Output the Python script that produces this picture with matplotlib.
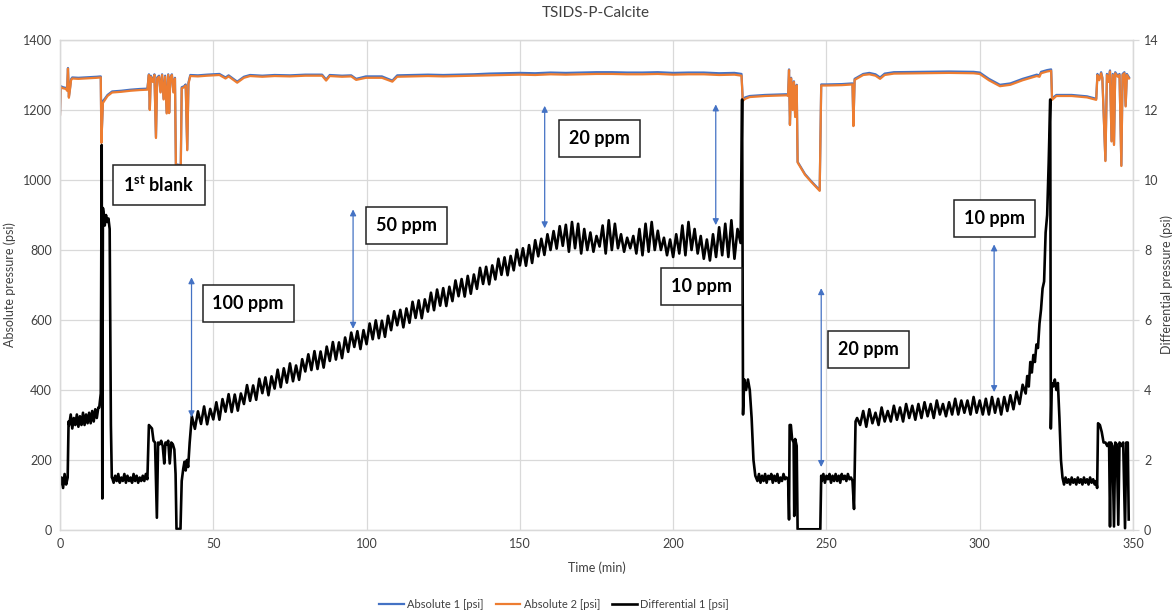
import numpy as np
import matplotlib
matplotlib.use("Agg")
import matplotlib.pyplot as plt

plt.rcParams['font.family'] = ['Lato', 'DejaVu Sans']
plt.rcParams['mathtext.fontset'] = 'custom'
plt.rcParams['mathtext.rm'] = 'Lato'
plt.rcParams['mathtext.bf'] = 'Lato:bold'

# ---------------- absolute pressures (left axis, psi) ----------------
abs_time = [0, 0.2, 1, 2, 2.3, 2.6, 2.9, 3.3, 3.6, 4, 6, 8, 10, 12, 13.3, 13.5, 14, 14.6, 15.5, 17,
            20, 23, 26, 28.5, 29, 29.3, 29.6, 30.3, 30.8, 31.3, 31.7, 32.3, 32.8, 33.3, 33.8, 34.3,
            34.8, 35.3, 35.6, 36, 36.5, 37, 37.5, 37.8, 39.4, 39.7, 40.5, 41, 41.5, 41.9, 42.5, 45,
            48, 52, 54, 55, 57.8, 60, 62, 66, 70, 75, 80, 85.5, 86.8, 88, 92, 95, 96.6, 99.8, 105,
            108.4, 110, 115, 120, 125, 130, 135, 140, 145, 150, 155, 160, 165, 170, 175, 180, 185,
            190, 195, 200, 205, 210, 215, 220, 222.3, 222.7, 223.5, 225, 230, 237, 237.5, 237.8,
            238.1, 238.5, 239, 239.4, 239.8, 240.3, 240.6, 243, 245, 247.8, 248.3, 250, 255, 258.5,
            258.8, 259.2, 260, 262, 264, 266, 267.5, 269, 272, 280, 290, 298, 300, 303, 306.6, 310,
            314, 318.6, 319.5, 320, 322, 323.3, 323.6, 325, 330, 335, 338, 338.4, 339, 339.6, 340,
            341, 341.5, 342, 342.5, 343, 343.4, 343.8, 344.2, 345, 345.6, 346.2, 346.6, 347.2,
            347.6, 348, 348.7]
absolute_2 = [1186, 1265, 1262, 1260, 1255, 1318, 1235, 1262, 1285, 1290, 1289, 1290, 1291, 1292,
              1293, 1106, 1220, 1228, 1240, 1250, 1252, 1255, 1257, 1258, 1300, 1200, 1295, 1280,
              1300, 1120, 1290, 1295, 1250, 1300, 1230, 1295, 1190, 1300, 1191, 1290, 1300, 1250,
              1290, 1043, 1040, 1262, 1265, 1270, 1085, 1275, 1297, 1296, 1298, 1300, 1290, 1296,
              1278, 1292, 1297, 1295, 1297, 1296, 1298, 1298, 1284, 1297, 1295, 1296, 1286, 1292,
              1292, 1281, 1295, 1296, 1297, 1296, 1297, 1298, 1299, 1300, 1301, 1300, 1302, 1301,
              1302, 1303, 1303, 1302, 1302, 1303, 1301, 1302, 1302, 1300, 1301, 1298, 1226, 1232,
              1237, 1240, 1242, 1240, 1314, 1157, 1290, 1200, 1280, 1180, 1270, 1050, 1015, 995,
              969, 1270, 1270, 1271, 1273, 1154, 1286, 1290, 1300, 1302, 1298, 1289, 1300, 1304,
              1305, 1306, 1305, 1303, 1285, 1268, 1272, 1285, 1297, 1295, 1305, 1310, 1312, 1229,
              1240, 1240, 1236, 1229, 1300, 1285, 1305, 1290, 1054, 1300, 1280, 1310, 1110, 1300,
              1100, 1305, 1295, 1300, 1040, 1300, 1305, 1210, 1300, 1290]
absolute_1 = [1188, 1268, 1265, 1263, 1258, 1320, 1238, 1265, 1288, 1293, 1292, 1293, 1294, 1295,
              1296, 1108, 1226, 1232, 1243, 1253, 1255, 1258, 1260, 1261, 1302, 1202, 1298, 1283,
              1302, 1122, 1293, 1298, 1252, 1302, 1232, 1298, 1192, 1302, 1193, 1293, 1302, 1252,
              1292, 1045, 1042, 1265, 1268, 1273, 1087, 1278, 1300, 1299, 1301, 1303, 1293, 1299,
              1281, 1295, 1300, 1298, 1300, 1299, 1301, 1301, 1287, 1300, 1298, 1299, 1289, 1296,
              1296, 1284, 1299, 1300, 1301, 1300, 1301, 1302, 1304, 1305, 1306, 1305, 1307, 1306,
              1307, 1308, 1308, 1307, 1307, 1308, 1306, 1307, 1307, 1305, 1306, 1303, 1230, 1236,
              1240, 1243, 1245, 1243, 1316, 1159, 1292, 1202, 1282, 1182, 1272, 1052, 1017, 997,
              971, 1273, 1273, 1274, 1276, 1156, 1289, 1293, 1303, 1306, 1302, 1293, 1304, 1308,
              1309, 1310, 1309, 1307, 1289, 1272, 1276, 1289, 1301, 1299, 1309, 1314, 1316, 1233,
              1243, 1243, 1239, 1232, 1303, 1288, 1308, 1293, 1056, 1303, 1283, 1313, 1112, 1303,
              1102, 1308, 1298, 1303, 1042, 1303, 1308, 1212, 1303, 1293]

# ---------------- differential pressure (right axis, psi) ----------------
# irregular segments: (times, values); regular segments: (start, step, values)
diff_seg_start_t = [0, 0.5, 1, 1.5, 2, 2.5, 2.8]
diff_seg_start_v = [1.3, 1.5, 1.2, 1.6, 1.3, 1.5, 3.1]
diff_pre_blank = [3.0, 3.3, 2.9, 3.2, 3.0, 3.3, 2.95, 3.25, 3.0, 3.35, 3.0, 3.3, 3.05, 3.35, 3.05,
                  3.4, 3.1, 3.45, 3.2, 3.5]                                  # t = 3.0 .. 12.5, step 0.5
diff_blank_t = [12.8, 13.3, 13.6, 13.8, 14.0, 14.3, 14.6, 15.0, 15.4, 15.8, 16.2, 16.6, 16.9]
diff_blank_v = [3.5, 3.9, 11.0, 0.9, 9.2, 9.0, 8.7, 9.0, 8.8, 8.9, 8.6, 3.0, 1.5]
diff_base_1 = [1.5, 1.35, 1.55, 1.4, 1.6, 1.35, 1.5, 1.4, 1.6, 1.35, 1.55, 1.4, 1.5, 1.35, 1.6,
               1.4, 1.55, 1.35, 1.5, 1.4, 1.55, 1.4, 1.6, 1.45]              # t = 17.0 .. 28.5
diff_switch_t = [29.0, 29.5, 30.0, 30.5, 31.0, 31.6, 32.0, 32.5, 33.0, 33.5, 34.0, 34.4, 34.8,
                 35.3, 35.8, 36.3, 36.8, 37.3, 37.7, 38.0, 39.3, 39.7, 40.2, 40.6, 41.0, 41.4,
                 41.8, 42.3, 42.7]
diff_switch_v = [3.0, 2.95, 2.9, 2.55, 2.5, 0.35, 2.5, 2.45, 2.55, 2.4, 1.9, 2.5, 2.45, 2.55, 1.9,
                 2.5, 2.45, 2.3, 1.6, 0.03, 0.03, 1.4, 1.75, 1.95, 1.7, 2.0, 1.8, 2.5, 2.95]
diff_ramp = [3.25, 2.89, 3.39, 3.03, 3.53, 3.02, 3.46, 3.16, 3.65, 3.15,
             3.74, 3.38, 3.88, 3.37, 3.87, 3.41, 3.90, 3.60, 4.14, 3.69,
             4.13, 3.72, 4.32, 3.91, 4.36, 3.85, 4.39, 4.04, 4.58, 4.08,
             4.62, 4.21, 4.76, 4.25, 4.70, 4.29, 4.88, 4.53, 5.02, 4.57,
             5.11, 4.60, 5.10, 4.64, 5.24, 4.83, 5.37, 4.87, 5.36, 4.91,
             5.50, 5.09, 5.64, 5.23, 5.68, 5.17, 5.71, 5.31, 5.90, 5.45,
             5.99, 5.48, 5.98, 5.52, 6.12, 5.71, 6.25, 5.85, 6.29, 5.79,
             6.33, 5.92, 6.52, 6.06, 6.56, 6.05, 6.59, 6.24, 6.78, 6.28,
             6.87, 6.41, 6.91, 6.40, 6.95, 6.54, 7.13, 6.68, 7.17, 6.67,
             7.26, 6.75, 7.30, 6.89, 7.49, 7.03, 7.52, 7.02, 7.56, 7.16,
             7.75, 7.29, 7.79, 7.28, 7.83, 7.42, 8.01, 7.56, 8.05, 7.55,
             8.14, 7.63, 8.28, 7.82, 8.32, 7.86, 8.45, 8.00, 8.54, 8.04,
             8.68, 8.12, 8.72]                                               # t = 43 .. 165, step 1
diff_plateau = [7.95, 8.80, 8.05, 8.75, 7.90, 8.60, 8.00, 8.50, 7.95, 8.40,
                8.10, 8.70, 7.90, 8.85, 8.00, 8.75, 8.05, 8.45, 7.95, 8.35,
                8.05, 8.40, 7.90, 8.60, 7.85, 8.75, 7.95, 8.80, 8.00, 8.55,
                8.00, 8.35, 7.85, 8.30, 7.80, 8.45, 7.90, 8.70, 7.85, 8.80,
                8.00, 8.60, 7.90, 8.40, 7.75, 8.30, 7.70, 8.45, 7.80, 8.65,
                7.85, 8.75, 7.80, 8.85, 7.75, 8.60]                          # t = 166 .. 221, step 1
diff_drop_t = [222.0, 222.5, 222.8, 223.2, 223.8, 224.4, 225.0, 225.6, 226.2, 226.8]
diff_drop_v = [8.2, 12.3, 3.3, 4.3, 4.0, 4.3, 4.0, 3.2, 2.0, 1.55]
diff_base_2 = [1.4, 1.6, 1.35, 1.55, 1.4, 1.6, 1.35, 1.55, 1.45, 1.6, 1.35, 1.55, 1.4, 1.6, 1.35,
               1.5, 1.4, 1.6, 1.45, 1.5]                                     # t = 227.5 .. 237.0
diff_switch2_t = [237.5, 237.8, 238.0, 238.4, 238.8, 239.3, 239.5, 239.8, 240.3, 240.6, 248.0, 248.3]
diff_switch2_v = [1.45, 0.3, 3.0, 3.0, 2.6, 2.5, 0.4, 2.6, 2.4, 0.02, 0.02, 1.55]
diff_base_3 = [1.4, 1.6, 1.35, 1.55, 1.45, 1.6, 1.35, 1.55, 1.4, 1.6, 1.4, 1.55, 1.35, 1.6, 1.45,
               1.55, 1.4, 1.6, 1.45, 1.5, 1.4]                               # t = 248.5 .. 258.5
diff_step_t = [259.0, 259.5, 260.0]
diff_step_v = [0.6, 3.1, 3.2]
diff_10ppm = [3.00, 3.40, 2.95, 3.45, 3.05, 3.35, 3.00, 3.50, 3.10, 3.40,
              3.10, 3.55, 3.15, 3.50, 3.10, 3.60, 3.20, 3.55, 3.15, 3.60,
              3.20, 3.65, 3.25, 3.60, 3.20, 3.70, 3.30, 3.60, 3.25, 3.65,
              3.30, 3.75, 3.30, 3.70, 3.35, 3.70, 3.30, 3.80, 3.35, 3.70,
              3.30, 3.75, 3.30, 3.80, 3.35, 3.75, 3.30, 3.80, 3.40, 3.85, 3.45, 3.95]  # t = 261 .. 312
diff_rise_t = [313, 314, 315, 315.5, 316, 316.5, 317, 317.5, 318, 318.5, 319, 319.5, 320, 320.5,
               321, 321.5, 322, 322.5, 323, 323.2, 323.5, 324, 324.5, 325, 325.5, 326, 326.5, 327]
diff_rise_v = [3.6, 4.15, 3.9, 4.4, 4.1, 4.8, 4.5, 5.0, 4.8, 5.3, 5.2, 5.9, 6.3, 6.9, 7.1, 8.5,
               9.0, 10.5, 12.3, 2.9, 4.2, 4.1, 4.3, 4.0, 4.2, 3.2, 2.0, 1.5]
diff_base_4 = [1.3, 1.5, 1.35, 1.45, 1.3, 1.5, 1.35, 1.45, 1.3, 1.5, 1.35, 1.45, 1.3, 1.5, 1.35,
               1.45, 1.3, 1.5, 1.35, 1.45, 1.3, 1.4]                         # t = 327.5 .. 338.0
diff_end_t = [338.3, 338.6, 339.2, 339.8, 340.4, 341.0, 341.6, 342.2, 342.5, 342.8, 343.3, 343.8,
              344.2, 344.7, 345.2, 345.6, 346.2, 346.8, 347.4, 347.8, 348.3, 348.6]
diff_end_v = [1.2, 3.05, 3.0, 2.8, 2.5, 2.5, 2.4, 2.5, 0.1, 2.5, 2.4, 0.1, 2.5, 2.45, 0.15, 2.5,
              2.4, 2.5, 0.05, 2.5, 2.5, 0.3]


def regular(start, step, values):
    return list(start + step * np.arange(len(values))), list(values)


segments = [
    (diff_seg_start_t, diff_seg_start_v),
    regular(3.0, 0.5, diff_pre_blank),
    (diff_blank_t, diff_blank_v),
    regular(17.0, 0.5, diff_base_1),
    (diff_switch_t, diff_switch_v),
    regular(43.0, 1.0, diff_ramp),
    regular(166.0, 1.0, diff_plateau),
    (diff_drop_t, diff_drop_v),
    regular(227.5, 0.5, diff_base_2),
    (diff_switch2_t, diff_switch2_v),
    regular(248.5, 0.5, diff_base_3),
    (diff_step_t, diff_step_v),
    regular(261.0, 1.0, diff_10ppm),
    (diff_rise_t, diff_rise_v),
    regular(327.5, 0.5, diff_base_4),
    (diff_end_t, diff_end_v),
]
diff_time = np.concatenate([np.asarray(s[0], float) for s in segments])
differential_1 = np.concatenate([np.asarray(s[1], float) for s in segments])

# ---------------- annotations ----------------
labels = ["1$^{\\mathbf{st}}$ blank", "100 ppm", "50 ppm", "20 ppm", "10 ppm", "20 ppm", "10 ppm"]
label_x = [32.3, 61.4, 113.0, 175.9, 209.3, 263.8, 304.7]
label_y = [986, 647, 869, 1119, 696, 515, 889]
arrow_x = [42.9, 95.6, 158.1, 213.9, 248.3, 304.7]
arrow_bottom = [322, 575, 862, 871, 180, 394]
arrow_top = [722, 916, 1212, 1216, 691, 816]

# ---------------- figure ----------------
fig = plt.figure(figsize=(11.76, 6.16), dpi=100)
ax = fig.add_axes([60 / 1176, 1 - 530 / 616, 1073 / 1176, 490 / 616])
ax2 = ax.twinx()

grid_c = '#d9d9d9'
txt_c = '#404040'

l1, = ax.plot(abs_time, absolute_1, color='#4472C4', lw=1.6, label='Absolute 1 [psi]')
l2, = ax.plot(abs_time, absolute_2, color='#ED7D31', lw=1.6, label='Absolute 2 [psi]')
l3, = ax2.plot(diff_time, differential_1, color='black', lw=1.9, label='Differential 1 [psi]')

ax.set_xlim(0, 350)
ax.set_ylim(0, 1400)
ax2.set_ylim(0, 14)
ax.set_xticks(np.arange(0, 351, 50))
ax.set_yticks(np.arange(0, 1401, 200))
ax2.set_yticks(np.arange(0, 15, 2))
ax.grid(True, color=grid_c, lw=0.9)
ax.set_axisbelow(True)

for a in (ax, ax2):
    for s in a.spines.values():
        s.set_color(grid_c)
        s.set_linewidth(0.9)
ax.tick_params(axis='both', length=0, labelsize=9, colors=txt_c, pad=6)
ax2.tick_params(axis='y', length=4, width=0.9, color=grid_c, labelsize=9, labelcolor=txt_c, pad=4)

ax.set_xlabel('Time (min)', fontsize=9, color=txt_c, labelpad=8)
ax.set_ylabel('Absolute pressure (psi)', fontsize=9, color=txt_c)
ax2.set_ylabel('Differential pressure (psi)', fontsize=9, color=txt_c)
ax.yaxis.set_label_coords((16 - 60) / 1073, 0.5)
ax2.yaxis.set_label_coords((1160 - 60) / 1073, 0.5)
fig.text(596 / 1176, 1 - 13 / 616, 'TSIDS-P-Calcite', ha='center', va='center',
         fontsize=11, color=txt_c)

for xa, yb, yt in zip(arrow_x, arrow_bottom, arrow_top):
    ax2.annotate('', xy=(xa, yt), xytext=(xa, yb), xycoords=ax.transData,
                 textcoords=ax.transData,
                 arrowprops=dict(arrowstyle='<|-|>', color='#4472C4', lw=0.9,
                                 mutation_scale=9, shrinkA=0, shrinkB=0))

for s, x, y in zip(labels, label_x, label_y):
    ax2.text(x, y, s, transform=ax.transData, ha='center', va='center', fontsize=13,
             fontweight='bold', color='black',
             bbox=dict(boxstyle='square,pad=0.55', facecolor='white', edgecolor='#222222', lw=1.1))

fig.legend(handles=[l1, l2, l3], loc='center', bbox_to_anchor=(554 / 1176, 1 - 604 / 616),
           ncol=3, frameon=False, fontsize=8, handlelength=2.2, columnspacing=1.1,
           handletextpad=0.3, labelcolor=txt_c)

fig.savefig('out.png', dpi=100)
